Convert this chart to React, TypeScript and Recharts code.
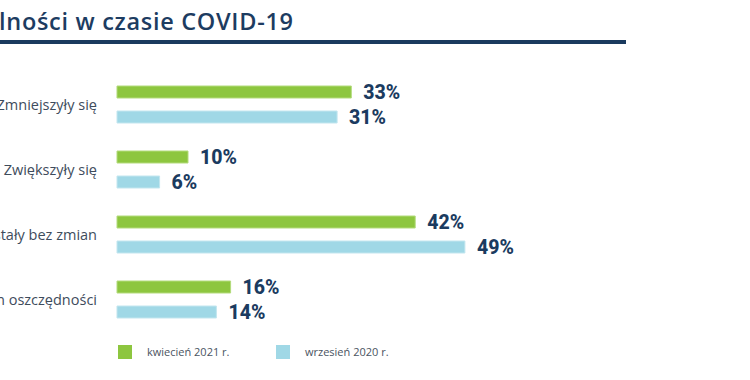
import React from "react";
import { BarChart, Bar, XAxis, YAxis, LabelList, Legend } from "recharts";

const categories = ["Zmniejszyły się", "Zwiększyły się", "Pozostały bez zmian", "Nie mam oszczędności"];
const april2021 = [33, 10, 42, 16];
const september2020 = [31, 6, 49, 14];
const seriesNames = ["kwiecień 2021 r.", "wrzesień 2020 r."];
const titleText = "lności w czasie COVID-19";

const data = categories.map((c, i) => ({ name: c, a: april2021[i], b: september2020[i] }));

const GREEN = "#8dc63f";
const BLUE = "#a0d8e6";
const NAVY = "#1b3b60";

const LegendContent = (props: any) => {
  const items = props.payload || [];
  const lefts = [118, 276];
  return (
    <div style={{ position: "relative", width: 750, height: 20 }}>
      {items.map((it: any, i: number) => (
        <div key={i} style={{ position: "absolute", left: lefts[i], top: 0, display: "flex", alignItems: "center" }}>
          <div style={{ width: 14, height: 14, background: it.color }} />
          <span style={{ marginLeft: 15, fontFamily: "Open Sans", fontSize: 11, color: "#4a5461" }}>{it.value}</span>
        </div>
      ))}
    </div>
  );
};

const CategoryTick = (props: any) => {
  const { x, y, payload } = props;
  return (
    <text x={x} y={y} textAnchor="end" dominantBaseline="central" fill="#3e4c5c" fontSize={14.5} fontFamily="Open Sans">
      {payload.value}
    </text>
  );
};

export default function App() {
  return (
    <div style={{ position: "absolute", left: 0, top: 0, width: 750, height: 380, background: "#fff", overflow: "hidden" }}>
      <svg width={750} height={50} style={{ position: "absolute", left: 0, top: 0 }}>
        <text x={-1} y={30} fontFamily="Open Sans" fontWeight={600} fontSize={23.5} letterSpacing={0.7} fill="#1d3c61">{titleText}</text>
        <rect x={0} y={40} width={626} height={4} fill="#1a3a5e" />
      </svg>
      <BarChart
        width={750}
        height={380}
        data={data}
        layout="vertical"
        margin={{ top: 72, right: 136, bottom: 28, left: 0 }}
        barSize={12}
        barGap={13}
        barCategoryGap="21.5%"
        style={{ position: "absolute", left: 0, top: 0 }}
      >
        <XAxis type="number" domain={[0, 70]} hide />
        <YAxis
          type="category"
          dataKey="name"
          width={117}
          axisLine={false}
          tickLine={false}
          tickSize={6}
          tickMargin={14}
          tick={<CategoryTick />}
        />
        <Legend
          verticalAlign="bottom"
          content={<LegendContent />}
          wrapperStyle={{ position: "absolute", left: 0, top: 344, width: 750, height: 20 }}
        />
        <Bar dataKey="a" name={seriesNames[0]} fill={GREEN} stroke="#b3db7c" strokeWidth={1} isAnimationActive={false}>
          <LabelList dataKey="a" position="right" offset={12} formatter={(v: any) => `${v}%`} fill={NAVY} fontSize={19.5} fontWeight={800} fontFamily="Roboto" />
        </Bar>
        <Bar dataKey="b" name={seriesNames[1]} fill={BLUE} stroke="#c3e6ef" strokeWidth={1} isAnimationActive={false}>
          <LabelList dataKey="b" position="right" offset={12} formatter={(v: any) => `${v}%`} fill={NAVY} fontSize={19.5} fontWeight={800} fontFamily="Roboto" />
        </Bar>
      </BarChart>
    </div>
  );
}
